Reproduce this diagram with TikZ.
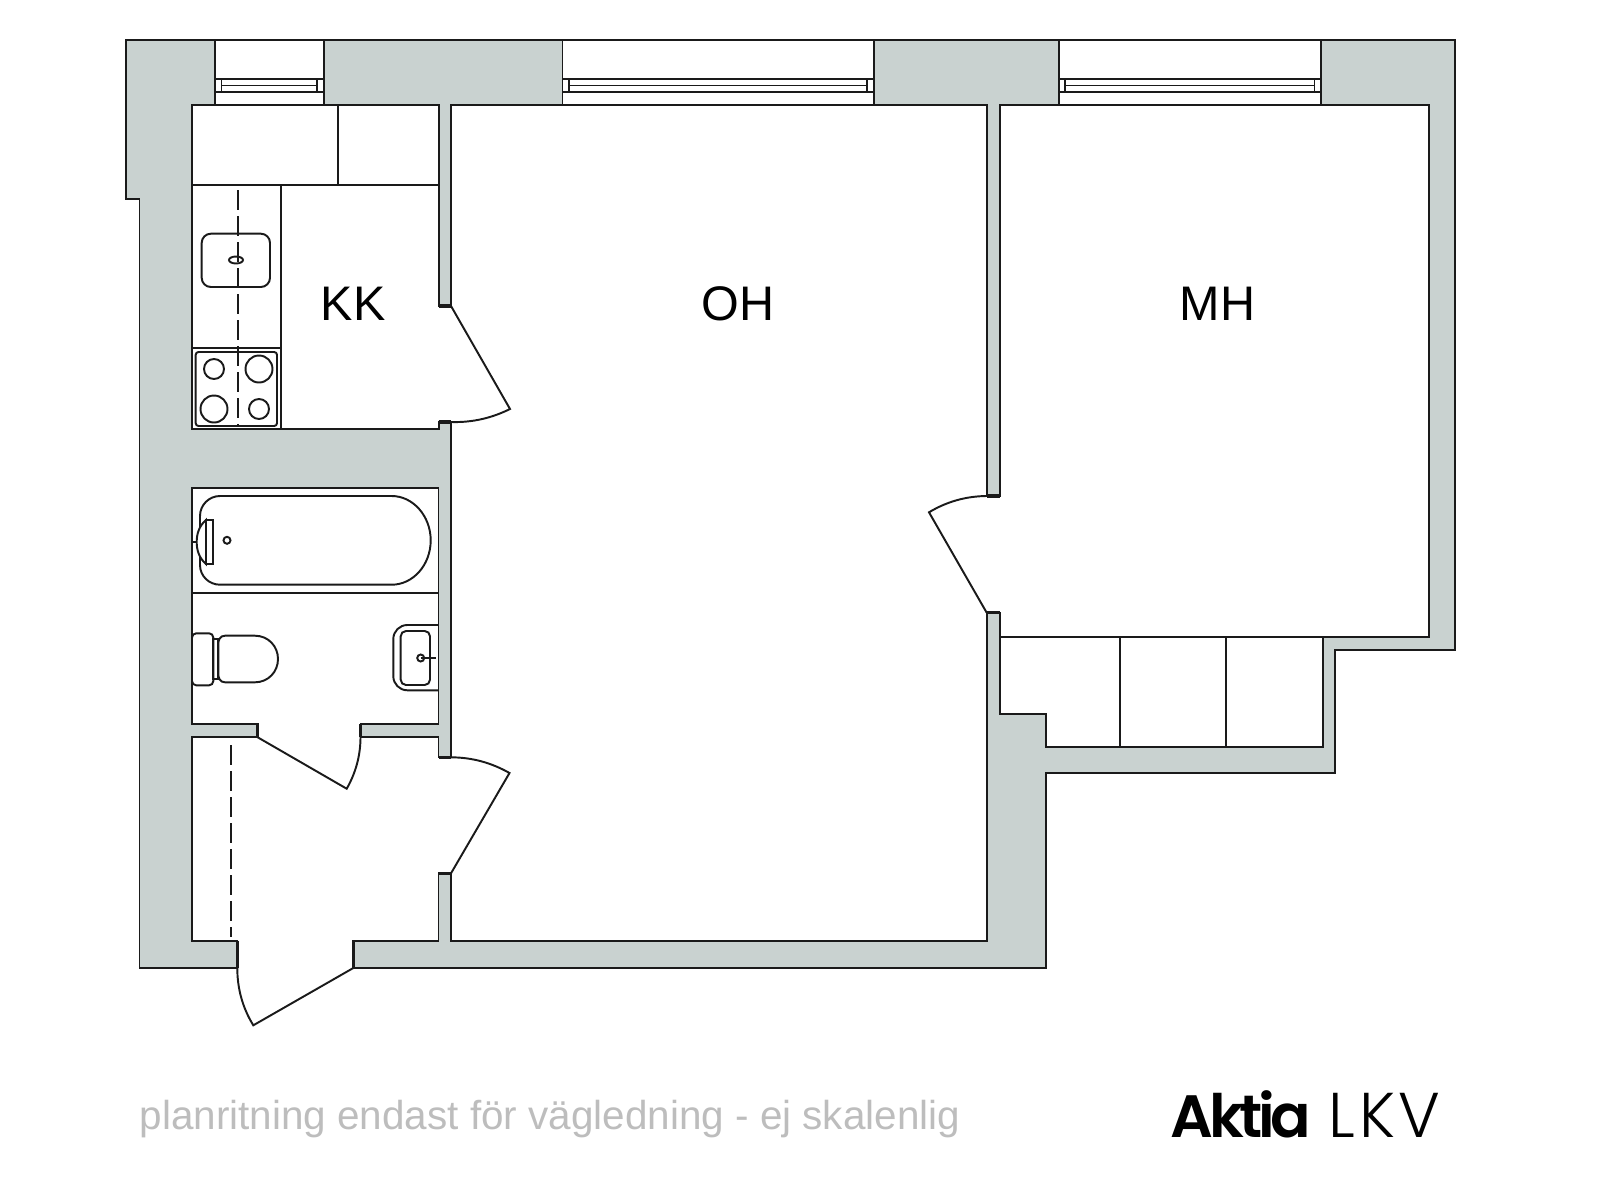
\documentclass[tikz,border=0pt]{standalone}
\usepackage{xcolor}
\usepackage{fontspec}
\setmainfont{Liberation Sans}
\newfontfamily\logobold{Poppins}[UprightFont=* SemiBold,LetterSpace=-7.5]
\newfontfamily\logolight{Poppins}[UprightFont=* Light,LetterSpace=6]
\definecolor{mur}{HTML}{C9D2D0}
\definecolor{trait}{HTML}{1A1A1A}
\definecolor{legende}{HTML}{BDBDBD}
\tikzset{
  plan/.style={draw=trait,line width=0.55pt,line join=miter},
  jamb/.style={draw=trait,line width=0.95pt},
  dashline/.style={draw=trait,line width=0.55pt,dash pattern=on 5.7pt off 1.7pt},
  room/.style={anchor=base,font=\fontsize{13.8}{14}\selectfont,text=black,inner sep=0pt},
}
\begin{document}
\begin{tikzpicture}[x=0.01cm,y=-0.01cm]
  \useasboundingbox (0,0) rectangle (1600,1200);

  % Murs
  \filldraw[plan,fill=mur] (353.3,968) -- (1045.7,968) -- (1045.7,773.3) -- (1335.3,773.3)
    -- (1335.3,650.3) -- (1455,650.3) -- (1455,40) -- (126,40) -- (126,199) -- (139.5,199)
    -- (139.5,968) -- (237.3,968);

  % Pieces
  \filldraw[plan,fill=white] (353.3,968) -- (353.3,941.3) -- (438.5,941.3) -- (438.5,873.3)
    -- (451,873.3) -- (451,941.3) -- (986.7,941.3) -- (986.7,612.7) -- (1000,612.7)
    -- (1000,713.7) -- (1045.7,713.7) -- (1045.7,746.7) -- (1322.7,746.7) -- (1322.7,637.3)
    -- (1429,637.3) -- (1429,105) -- (1000,105) -- (1000,496) -- (986.7,496) -- (986.7,105)
    -- (451,105) -- (451,306) -- (438.7,306) -- (438.7,105) -- (192,105) -- (192,429)
    -- (438.7,429) -- (438.7,422) -- (451,422) -- (451,757.3) -- (438.5,757.3) -- (438.5,737.3)
    -- (360.5,737.3) -- (360.5,724.3) -- (438.5,724.3) -- (438.5,487.7) -- (192,487.7)
    -- (192,724.3) -- (257.7,724.3) -- (257.7,737.3) -- (192,737.3) -- (192,941.3)
    -- (237.3,941.3) -- (237.3,968);
  \fill[white] (239,960) rectangle (352,970);

  % Fenetres
  \foreach \xa/\xb in {215/323.7,562.5/873.6,1058.7/1321}{
    \draw[plan,fill=white] (\xa,40) rectangle (\xb,105);
    \draw[plan] (\xa,79) rectangle (\xb,91.7);
    \draw[plan] (\xa+6.5,79) -- (\xa+6.5,91.7);
    \draw[plan] (\xb-6.5,79) -- (\xb-6.5,91.7);
    \draw[plan] (\xa+6.5,85.5) -- (\xb-6.5,85.5);
  }

  % Tableaux de portes
  \foreach \ya in {306,422,757.3,873.3}{
    \draw[jamb] (438.7,\ya) -- (451,\ya);
  }
  \foreach \ya in {496,612.7}{
    \draw[jamb] (986.7,\ya) -- (1000,\ya);
  }
  \foreach \xa in {257.7,360.5}{
    \draw[jamb] (\xa,724.3) -- (\xa,737.3);
  }
  \foreach \xa in {237.3,353.3}{
    \draw[jamb] (\xa,941.3) -- (\xa,968);
  }

  % Portes
  \draw[plan] (451,306) -- (510,409) .. controls (491.8,418) and (472.3,422.7) .. (451,422);
  \draw[plan] (451,873.3) -- (509.5,773) .. controls (491,762.5) and (471.7,757.4) .. (451,757.3);
  \draw[plan] (986.7,612.7) -- (929,512.3) .. controls (946.7,501.6) and (966,496.2) .. (986.7,496);
  \draw[plan] (257.7,737.3) -- (346.7,788.7) .. controls (355.9,772.6) and (360.5,755.3) .. (360.5,737);
  \draw[plan] (353.3,968) -- (253.3,1025.3) .. controls (242.6,1007.8) and (237.3,988.7) .. (237.3,968);

  % Cuisine
  \draw[plan] (192,185) -- (438.7,185);
  \draw[plan] (337.7,105) -- (337.7,185);
  \draw[plan] (281,185) -- (281,429);
  \draw[plan] (192,348) -- (281,348);
  \draw[plan,rounded corners=2.6pt] (201.7,233.7) rectangle (270,287);
  \draw[plan] (236,260) ellipse (7 and 3.5);
  \draw[plan,rounded corners=0.8pt] (195.7,352) rectangle (277,426);
  \draw[plan] (214,369) circle (10);
  \draw[plan] (259,369) circle (13.5);
  \draw[plan] (214,409) circle (13.5);
  \draw[plan] (259,409) circle (10);
  \draw[dashline] (238,190) -- (238,425);

  % Salle de bain
  \draw[plan] (192,592.7) -- (438.5,592.7);
  \draw[plan] (220,496) -- (391.7,496) .. controls (413,496) and (430.7,516) .. (430.7,540.3)
    .. controls (430.7,565) and (413,584.7) .. (391.7,584.7) -- (220,584.7)
    .. controls (209,584.7) and (200,576) .. (200,565) -- (200,516)
    .. controls (200,505) and (209,496) .. (220,496) -- cycle;
  \draw[plan] (192,541.7) -- (197,541.7);
  \draw[plan,fill=white] (206,520) .. controls (199,526) and (196.7,534) .. (196.7,542)
    .. controls (196.7,550) and (199,558) .. (206,564) -- cycle;
  \draw[plan,fill=white] (206,520) rectangle (213.3,564);
  \draw[plan] (227,540.3) circle (3.5);
  \draw[plan,fill=white] (213.3,639.3) rectangle (218.3,679.3);
  \draw[plan,rounded corners=1.2pt] (192,633.3) rectangle (213.3,685.3);
  \draw[plan,fill=white] (225,635.7) -- (255,635.7) .. controls (268,635.7) and (278,646) .. (278,659)
    .. controls (278,672) and (268,682.3) .. (255,682.3) -- (225,682.3)
    .. controls (220,682.3) and (218.3,678) .. (218.3,674) -- (218.3,644)
    .. controls (218.3,640) and (220,635.7) .. (225,635.7) -- cycle;
  \draw[plan,rounded corners=4pt] (438.5,625) -- (393.3,625) -- (393.3,690.3) -- (438.5,690.3);
  \draw[plan,rounded corners=1.5pt] (400.7,631) rectangle (430,685);
  \draw[plan] (420.7,658) circle (3.5);
  \draw[trait,line width=0.8pt] (420.7,658) -- (435.7,658);

  % Hall
  \draw[dashline] (231.3,745) -- (231.3,937);

  % Armoires
  \draw[plan] (1000,637.3) -- (1322.7,637.3);
  \draw[plan] (1120,637.3) -- (1120,746.7);
  \draw[plan] (1226.3,637.3) -- (1226.3,746.7);

  % Textes
  \node[room] (kk) at (353,320) {KK};
  \node[room] (oh) at (738,320) {OH};
  \node[room] (mh) at (1217.5,320) {MH};
  \node[anchor=base west,inner sep=0pt,text=legende,font=\fontsize{11.5}{11.5}\selectfont] (legend) at (139,1129) {planritning endast för vägledning - ej skalenlig};
  \node[anchor=base west,inner sep=0pt,font=\logobold\fontsize{17}{17}\selectfont] (aktia) at (1170,1137) {Aktia};
  \node[anchor=base west,inner sep=0pt,font=\logolight\fontsize{18}{18}\selectfont] (lkv) at (1328,1137) {LKV};
\end{tikzpicture}
\end{document}
